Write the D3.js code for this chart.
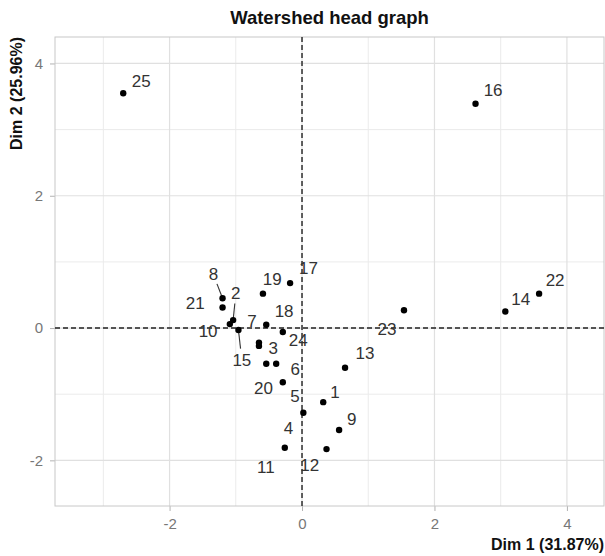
<!DOCTYPE html>
<html>
<head>
<meta charset="utf-8">
<script src="https://cdn.jsdelivr.net/npm/d3@7"></script>
<style>
  html, body { margin: 0; padding: 0; background: #fff; }
  svg { display: block; }
  text { font-family: "Liberation Sans", Arial, sans-serif; }
</style>
</head>
<body>
<svg id="chart" width="605" height="556"></svg>
<script>
// ---- data ----
const labels = ["1","2","3","4","5","6","7","8","9","10","11","12","13","14","15","16","17","18","19","20","21","22","23","24","25"];
const dim1 = [0.32,-1.04,-0.65,-0.54,0.02,-0.39,-0.54,-1.20,0.56,-1.09,-0.26,0.37,0.65,3.07,-0.96,2.62,-0.18,-0.29,-0.59,-0.29,-1.20,3.58,1.54,-0.65,-2.70];
const dim2 = [-1.12,0.12,-0.22,-0.54,-1.28,-0.54,0.05,0.45,-1.54,0.06,-1.81,-1.83,-0.60,0.25,-0.03,3.39,0.68,-0.06,0.52,-0.82,0.31,0.52,0.27,-0.27,3.55];
const xTicks = [-2, 0, 2, 4];
const yTicks = [-2, 0, 2, 4];
const xMinor = [-3, -1, 1, 3];
const yMinor = [-1, 1, 3];
const title = "Watershed head graph";
const xTitle = "Dim 1 (31.87%)";
const yTitle = "Dim 2 (25.96%)";
// label placement (pixel offsets from point, repel-style)
const labelDx = [11.7,2.7,14.3,22.3,-8.3,19,-14.3,-9,12.7,-21.7,-19,-16.7,20,15.4,3.4,17.6,18.3,1.3,9.3,-19.4,-27.3,16,-17,39.3,18];
const labelDy = [-9.3,-26.7,6.3,64.3,-16,6,-3.3,-23.3,-10,7,20,16.7,-14.7,-12.4,30,-13.3,-14.4,-20.3,-14,6,-4.4,-12.7,19,-5.3,-12];
const withSegment = ["2","8","15"];

// ---- layout ----
const svg = d3.select("#chart");
const L = 55, R = 604, T = 37, B = 506;
const x = d3.scaleLinear().domain([-3.73, 4.56]).range([L, R]);
const y = d3.scaleLinear().domain([-2.69, 4.40]).range([B, T]);

// grid
const g = svg.append("g");
g.selectAll(".vminor").data(xMinor).join("line")
  .attr("x1", d => x(d)).attr("x2", d => x(d)).attr("y1", T).attr("y2", B)
  .attr("stroke", "#ebebeb").attr("stroke-width", 1);
g.selectAll(".hminor").data(yMinor).join("line")
  .attr("y1", d => y(d)).attr("y2", d => y(d)).attr("x1", L).attr("x2", R)
  .attr("stroke", "#ebebeb").attr("stroke-width", 1);
g.selectAll(".vmajor").data(xTicks).join("line")
  .attr("x1", d => x(d)).attr("x2", d => x(d)).attr("y1", T).attr("y2", B)
  .attr("stroke", "#e0e0e0").attr("stroke-width", 1.2);
g.selectAll(".hmajor").data(yTicks).join("line")
  .attr("y1", d => y(d)).attr("y2", d => y(d)).attr("x1", L).attr("x2", R)
  .attr("stroke", "#e0e0e0").attr("stroke-width", 1.2);

// axes
const xAxis = d3.axisBottom(x).tickValues(xTicks).tickSize(5).tickPadding(7);
const yAxis = d3.axisLeft(y).tickValues(yTicks).tickSize(5).tickPadding(7);
const ax = svg.append("g").attr("transform", `translate(0,${B})`).call(xAxis);
const ay = svg.append("g").attr("transform", `translate(${L},0)`).call(yAxis);
[ax, ay].forEach(a => {
  a.select(".domain").remove();
  a.selectAll(".tick line").attr("stroke", "#b3b3b3");
  a.selectAll(".tick text").attr("fill", "#777").style("font-size", "15px")
    .style("font-family", "'Liberation Sans', Arial, sans-serif")
    .text(d => d < 0 ? "-" + Math.abs(d) : String(d));
});

// panel border
svg.append("rect").attr("x", L).attr("y", T).attr("width", R - L).attr("height", B - T)
  .attr("fill", "none").attr("stroke", "#c8c8c8").attr("stroke-width", 1);

// reference dashed lines
svg.append("line").attr("x1", x(0)).attr("x2", x(0)).attr("y1", T).attr("y2", B)
  .attr("stroke", "#222").attr("stroke-width", 1.4).attr("stroke-dasharray", "5,3");
svg.append("line").attr("x1", L).attr("x2", R).attr("y1", y(0)).attr("y2", y(0))
  .attr("stroke", "#222").attr("stroke-width", 1.4).attr("stroke-dasharray", "5,3");

const pts = labels.map((l, i) => ({ l, x: dim1[i], y: dim2[i], dx: labelDx[i], dy: labelDy[i] }));

// segments
svg.selectAll(".seg").data(pts.filter(p => withSegment.includes(p.l))).join("line")
  .attr("x1", p => x(p.x)).attr("y1", p => y(p.y))
  .attr("x2", p => x(p.x) + p.dx * 0.62).attr("y2", p => y(p.y) + p.dy * 0.62)
  .attr("stroke", "#333").attr("stroke-width", 1.1);

// points
svg.selectAll(".pt").data(pts).join("circle")
  .attr("cx", p => x(p.x)).attr("cy", p => y(p.y)).attr("r", 3.2).attr("fill", "#000");

// labels
svg.selectAll(".lab").data(pts).join("text")
  .attr("x", p => x(p.x) + p.dx).attr("y", p => y(p.y) + p.dy)
  .attr("text-anchor", "middle").attr("dominant-baseline", "central")
  .attr("fill", "#333").style("font-size", "17px").text(p => p.l);

// titles
svg.append("text").attr("x", (L + R) / 2).attr("y", 17).attr("text-anchor", "middle")
  .attr("dominant-baseline", "central").style("font-size", "18.5px").style("font-weight", "bold")
  .attr("fill", "#111").text(title);
svg.append("text").attr("x", R).attr("y", 550).attr("text-anchor", "end")
  .style("font-size", "16px").style("font-weight", "bold").attr("fill", "#111").text(xTitle);
svg.append("text").attr("transform", `translate(22,${T}) rotate(-90)`).attr("text-anchor", "end")
  .style("font-size", "16px").style("font-weight", "bold").attr("fill", "#111").text(yTitle);
</script>
</body>
</html>
